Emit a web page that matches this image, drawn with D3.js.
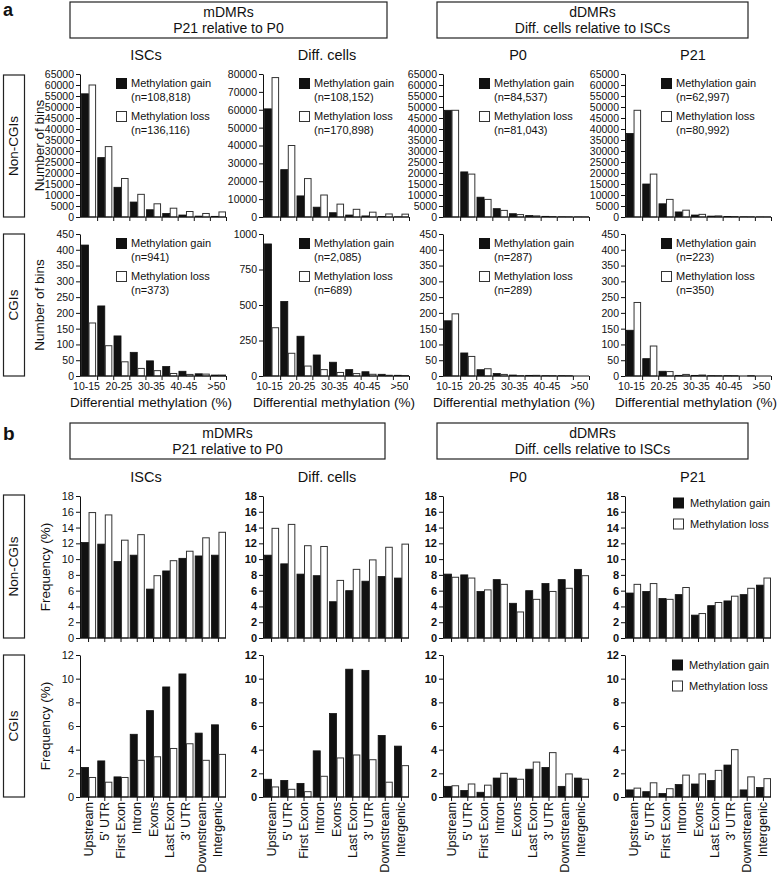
<!DOCTYPE html>
<html>
<head>
<meta charset="utf-8">
<script src="https://cdn.jsdelivr.net/npm/d3@7"></script>
<style>
  body { margin: 0; background: #fff; }
  text { font-family: "Liberation Sans", Arial, Helvetica, sans-serif; fill: #111; }
</style>
</head>
<body>
<script>
// ---- data ----
var bins = ["10-15", "15-20", "20-25", "25-30", "30-35", "35-40", "40-45", "45-50", ">50"];
var regions = ["Upstream", "5' UTR", "First Exon", "Intron", "Exons", "Last Exon", "3' UTR", "Downstream", "Intergenic"];
var columns = ["ISCs", "Diff. cells", "P0", "P21"];

// panel a, non-CGIs (number of bins)
var iscNonGain  = [56000, 27000, 13500, 6800, 3300, 1600, 900, 400, 300];
var iscNonLoss  = [60000, 32000, 17500, 10300, 6000, 4000, 2500, 1600, 2300];
var diffNonGain = [60500, 26500, 11800, 5500, 2400, 1100, 600, 250, 100];
var diffNonLoss = [78000, 40000, 21500, 12300, 7200, 4300, 2700, 1700, 1600];
var p0NonGain   = [48500, 20500, 9000, 3800, 1500, 700, 300, 100, 50];
var p0NonLoss   = [48500, 19500, 8000, 3000, 1100, 500, 200, 100, 50];
var p21NonGain  = [38000, 15000, 6000, 2300, 900, 400, 200, 100, 50];
var p21NonLoss  = [48500, 19500, 8000, 3100, 1200, 500, 200, 100, 50];

// panel a, CGIs (number of bins)
var iscCgiGain  = [415, 222, 127, 75, 48, 30, 15, 7, 3];
var iscCgiLoss  = [168, 96, 45, 24, 17, 8, 5, 6, 3];
var diffCgiGain = [930, 525, 280, 148, 97, 45, 30, 12, 5];
var diffCgiLoss = [340, 160, 70, 45, 25, 17, 12, 5, 3];
var p0CgiGain   = [175, 73, 20, 8, 3, 2, 1, 1, 0];
var p0CgiLoss   = [197, 62, 23, 5, 1, 2, 1, 1, 0];
var p21CgiGain  = [145, 55, 15, 2, 2, 1, 1, 0, 0];
var p21CgiLoss  = [233, 95, 14, 5, 3, 1, 1, 1, 0];

var nNonGain = ["108,818", "108,152", "84,537", "62,997"];
var nNonLoss = ["136,116", "170,898", "81,043", "80,992"];
var nCgiGain = ["941", "2,085", "287", "223"];
var nCgiLoss = ["373", "689", "289", "350"];

var aNonMax = [65000, 80000, 65000, 65000], aNonStep = [5000, 10000, 5000, 5000];
var aCgiMax = [450, 1000, 450, 450],       aCgiStep = [50, 250, 50, 50];

// panel b, frequency (%)
var iscNonFreqGain  = [12.1, 11.9, 9.7, 10.5, 6.2, 8.5, 10.1, 10.4, 10.5];
var iscNonFreqLoss  = [15.9, 15.6, 12.4, 13.1, 7.9, 9.8, 11.0, 12.7, 13.4];
var diffNonFreqGain = [10.5, 9.4, 8.1, 7.9, 4.6, 6.0, 7.2, 7.8, 7.6];
var diffNonFreqLoss = [13.9, 14.4, 11.7, 11.6, 7.3, 8.7, 9.9, 11.5, 11.9];
var p0NonFreqGain   = [8.1, 8.0, 5.9, 7.4, 4.4, 6.0, 6.9, 7.4, 8.7];
var p0NonFreqLoss   = [7.7, 7.6, 6.1, 6.8, 3.3, 4.9, 5.9, 6.3, 7.9];
var p21NonFreqGain  = [5.7, 5.9, 5.0, 5.5, 2.9, 4.1, 4.7, 5.5, 6.7];
var p21NonFreqLoss  = [6.8, 6.9, 4.9, 6.4, 3.1, 4.5, 5.3, 6.3, 7.6];

var iscCgiFreqGain  = [2.5, 3.05, 1.7, 5.3, 7.3, 9.3, 10.4, 5.4, 6.1];
var iscCgiFreqLoss  = [1.65, 1.25, 1.65, 3.1, 3.4, 4.1, 4.5, 3.1, 3.6];
var diffCgiFreqGain = [1.5, 1.4, 1.15, 3.9, 7.05, 10.8, 10.7, 5.2, 4.3];
var diffCgiFreqLoss = [0.85, 0.65, 0.45, 1.75, 3.3, 3.55, 3.15, 1.25, 2.65];
var p0CgiFreqGain   = [0.9, 0.55, 0.4, 1.6, 1.6, 2.35, 2.5, 0.9, 1.6];
var p0CgiFreqLoss   = [0.95, 1.1, 1.0, 2.0, 1.5, 2.95, 3.75, 1.95, 1.5];
var p21CgiFreqGain  = [0.6, 0.45, 0.3, 1.05, 1.1, 1.4, 2.7, 0.6, 0.8];
var p21CgiFreqLoss  = [0.75, 1.2, 0.7, 1.85, 1.95, 2.25, 4.0, 1.7, 1.55];

// ---- layout ----
var W = 778, H = 874;
var colX = [80, 263, 443, 625];
var colTitleX = [146, 327, 518, 693];
var plotW = 146;

var svg = d3.select("body").append("svg")
  .attr("width", W).attr("height", H);

function styleAxis(g, size, bold) {
  g.attr("font-family", null).attr("font-size", null);
  g.selectAll("path.domain").attr("stroke", "#111").attr("stroke-width", 1);
  g.selectAll(".tick line").attr("stroke", "#111").attr("stroke-width", 1);
  g.selectAll(".tick text")
    .style("font-size", size + "px")
    .style("font-weight", bold ? "bold" : "normal")
    .attr("fill", "#111");
}

function drawChart(o) {
  var g = svg.append("g");
  var x = d3.scaleBand().domain(o.cats).range([o.x0 + 1, o.x0 + plotW]).paddingInner(0.07);
  var y = d3.scaleLinear().domain([0, o.max]).range([o.bottom, o.top]);
  var bw = x.bandwidth() / 2;

  g.selectAll("rect.gain").data(o.gain).enter().append("rect")
    .attr("class", "gain")
    .attr("x", function(d, i) { return x(o.cats[i]) + 0.5; })
    .attr("y", function(d) { return y(d); })
    .attr("width", bw - 0.5)
    .attr("height", function(d) { return y(0) - y(d); })
    .attr("fill", "#111").attr("stroke", "#111").attr("stroke-width", 0.8);

  g.selectAll("rect.loss").data(o.loss).enter().append("rect")
    .attr("class", "loss")
    .attr("x", function(d, i) { return x(o.cats[i]) + bw + 0.5; })
    .attr("y", function(d) { return y(d); })
    .attr("width", bw - 1)
    .attr("height", function(d) { return y(0) - y(d); })
    .attr("fill", "#fff").attr("stroke", "#333").attr("stroke-width", 1);

  // y axis
  var ya = g.append("g").attr("transform", "translate(" + o.x0 + ",0)")
    .call(d3.axisLeft(y)
      .tickValues(d3.range(0, o.max + o.step / 2, o.step))
      .tickSize(4).tickSizeOuter(0).tickPadding(2)
      .tickFormat(d3.format("d")));
  styleAxis(ya, o.tickSize, o.bold);

  // x axis
  var xa;
  if (o.edgeTicks) {
    var xe = d3.scaleLinear().domain([0, o.cats.length]).range([o.x0 + 1, o.x0 + plotW]);
    xa = g.append("g").attr("transform", "translate(0," + o.bottom + ")")
      .call(d3.axisBottom(xe).tickValues(d3.range(1, o.cats.length + 1))
        .tickSize(4).tickSizeOuter(0).tickFormat(""));
  } else {
    xa = g.append("g").attr("transform", "translate(0," + o.bottom + ")")
      .call(d3.axisBottom(x).tickSize(4).tickSizeOuter(0).tickFormat(""));
  }
  styleAxis(xa, 10, false);
  xa.select("path.domain").remove();
  xa.append("line").attr("x1", o.x0).attr("x2", o.x0 + plotW)
    .attr("stroke", "#111").attr("stroke-width", 1);

  return x;
}

function headerBox(x1, x2, y1, line1, line2) {
  svg.append("rect").attr("x", x1).attr("y", y1).attr("width", x2 - x1).attr("height", 36)
    .attr("fill", "none").attr("stroke", "#222").attr("stroke-width", 1.2);
  svg.append("text").attr("x", (x1 + x2) / 2).attr("y", y1 + 15)
    .attr("text-anchor", "middle").style("font-size", "14px").text(line1);
  svg.append("text").attr("x", (x1 + x2) / 2).attr("y", y1 + 31)
    .attr("text-anchor", "middle").style("font-size", "14px").text(line2);
}

function rowBox(top, bottom, label) {
  svg.append("rect").attr("x", 3.5).attr("y", top).attr("width", 21).attr("height", bottom - top)
    .attr("fill", "none").attr("stroke", "#222").attr("stroke-width", 1.2);
  svg.append("text").attr("transform", "translate(18," + ((top + bottom) / 2) + ") rotate(-90)")
    .attr("text-anchor", "middle").style("font-size", "13.5px").text(label);
}

function yTitle(x, top, bottom, label) {
  svg.append("text").attr("transform", "translate(" + x + "," + ((top + bottom) / 2) + ") rotate(-90)")
    .attr("text-anchor", "middle").style("font-size", "13.5px").text(label);
}

function legendA(x0, top, nGain, nLoss) {
  var g = svg.append("g").attr("transform", "translate(" + (x0 + 36) + "," + top + ")");
  g.append("rect").attr("x", 0.5).attr("y", 4.5).attr("width", 10).attr("height", 10)
    .attr("fill", "#111").attr("stroke", "#111");
  g.append("rect").attr("x", 0.5).attr("y", 37.5).attr("width", 10).attr("height", 10)
    .attr("fill", "#fff").attr("stroke", "#333");
  var t = [["Methylation gain", 13], ["(n=" + nGain + ")", 27], ["Methylation loss", 46], ["(n=" + nLoss + ")", 60]];
  t.forEach(function(d) {
    g.append("text").attr("x", 15).attr("y", d[1]).style("font-size", "11px").text(d[0]);
  });
}

function legendB(x, yc) {
  var g = svg.append("g").attr("transform", "translate(" + x + "," + yc + ")");
  g.append("rect").attr("x", 0.5).attr("y", -5).attr("width", 10).attr("height", 10)
    .attr("fill", "#111").attr("stroke", "#111");
  g.append("rect").attr("x", 0.5).attr("y", 16).attr("width", 10).attr("height", 10)
    .attr("fill", "#fff").attr("stroke", "#333");
  g.append("text").attr("x", 17).attr("y", 4).style("font-size", "11px").text("Methylation gain");
  g.append("text").attr("x", 17).attr("y", 25).style("font-size", "11px").text("Methylation loss");
}

// ---- panel a ----
svg.append("text").attr("x", 3).attr("y", 16).style("font-size", "18px").style("font-weight", "bold").text("a");
headerBox(70, 387, 2, "mDMRs", "P21 relative to P0");
headerBox(437, 748, 2, "dDMRs", "Diff. cells relative to ISCs");
columns.forEach(function(c, i) {
  svg.append("text").attr("x", colTitleX[i]).attr("y", 60).attr("text-anchor", "middle")
    .style("font-size", "14.5px").text(c);
});

var aRow1 = { top: 74, bottom: 217 }, aRow2 = { top: 234, bottom: 376 };
var aNonGain = [iscNonGain, diffNonGain, p0NonGain, p21NonGain];
var aNonLoss = [iscNonLoss, diffNonLoss, p0NonLoss, p21NonLoss];
var aCgiGain = [iscCgiGain, diffCgiGain, p0CgiGain, p21CgiGain];
var aCgiLoss = [iscCgiLoss, diffCgiLoss, p0CgiLoss, p21CgiLoss];

rowBox(aRow1.top + 1, aRow1.bottom, "Non-CGIs");
rowBox(aRow2.top, aRow2.bottom, "CGIs");
yTitle(44, aRow1.top, aRow1.bottom, "Number of bins");
yTitle(44, aRow2.top, aRow2.bottom, "Number of bins");

colX.forEach(function(x0, i) {
  drawChart({ x0: x0, top: aRow1.top, bottom: aRow1.bottom, cats: bins,
    gain: aNonGain[i], loss: aNonLoss[i], max: aNonMax[i], step: aNonStep[i],
    edgeTicks: true, tickSize: 10.5, bold: false });
  legendA(x0, aRow1.top, nNonGain[i], nNonLoss[i]);

  var x = drawChart({ x0: x0, top: aRow2.top, bottom: aRow2.bottom, cats: bins,
    gain: aCgiGain[i], loss: aCgiLoss[i], max: aCgiMax[i], step: aCgiStep[i],
    edgeTicks: true, tickSize: 10.5, bold: false });
  legendA(x0, aRow2.top, nCgiGain[i], nCgiLoss[i]);

  svg.append("g").selectAll("text").data(bins.filter(function(d, k) { return k % 2 === 0; }))
    .enter().append("text")
    .attr("x", function(d) { return x(d) + x.bandwidth() / 2 - 2; })
    .attr("y", aRow2.bottom + 14)
    .attr("text-anchor", "middle").style("font-size", "10.5px")
    .text(function(d) { return d; });

  svg.append("text").attr("x", x0 + plotW / 2 - 2).attr("y", aRow2.bottom + 31)
    .attr("text-anchor", "middle").style("font-size", "13.5px")
    .text("Differential methylation (%)");
});

// ---- panel b ----
svg.append("text").attr("x", 3).attr("y", 440).style("font-size", "19px").style("font-weight", "bold").text("b");
headerBox(70, 385, 423, "mDMRs", "P21 relative to P0");
headerBox(437, 748, 423, "dDMRs", "Diff. cells relative to ISCs");
columns.forEach(function(c, i) {
  svg.append("text").attr("x", colTitleX[i]).attr("y", 482).attr("text-anchor", "middle")
    .style("font-size", "14.5px").text(c);
});

var bRow1 = { top: 496, bottom: 638 }, bRow2 = { top: 655, bottom: 797 };
var bNonGain = [iscNonFreqGain, diffNonFreqGain, p0NonFreqGain, p21NonFreqGain];
var bNonLoss = [iscNonFreqLoss, diffNonFreqLoss, p0NonFreqLoss, p21NonFreqLoss];
var bCgiGain = [iscCgiFreqGain, diffCgiFreqGain, p0CgiFreqGain, p21CgiFreqGain];
var bCgiLoss = [iscCgiFreqLoss, diffCgiFreqLoss, p0CgiFreqLoss, p21CgiFreqLoss];

rowBox(bRow1.top - 1, bRow1.bottom, "Non-CGIs");
rowBox(bRow2.top, bRow2.bottom, "CGIs");
yTitle(50, bRow1.top, bRow1.bottom, "Frequency (%)");
yTitle(50, bRow2.top, bRow2.bottom, "Frequency (%)");

colX.forEach(function(x0, i) {
  drawChart({ x0: x0, top: bRow1.top, bottom: bRow1.bottom, cats: regions,
    gain: bNonGain[i], loss: bNonLoss[i], max: 18, step: 2,
    edgeTicks: false, tickSize: 11, bold: i > 0 });

  var x = drawChart({ x0: x0, top: bRow2.top, bottom: bRow2.bottom, cats: regions,
    gain: bCgiGain[i], loss: bCgiLoss[i], max: 12, step: 2,
    edgeTicks: false, tickSize: 11, bold: i > 0 });

  svg.append("g").selectAll("text").data(regions).enter().append("text")
    .attr("transform", function(d) {
      return "translate(" + (x(d) + x.bandwidth() / 2 + 4) + "," + (bRow2.bottom + 5) + ") rotate(-90)";
    })
    .attr("text-anchor", "end").style("font-size", "12.6px")
    .text(function(d) { return d; });
});

legendB(673, bRow1.top + 7);
legendB(672, bRow2.top + 10);
</script>
</body>
</html>
